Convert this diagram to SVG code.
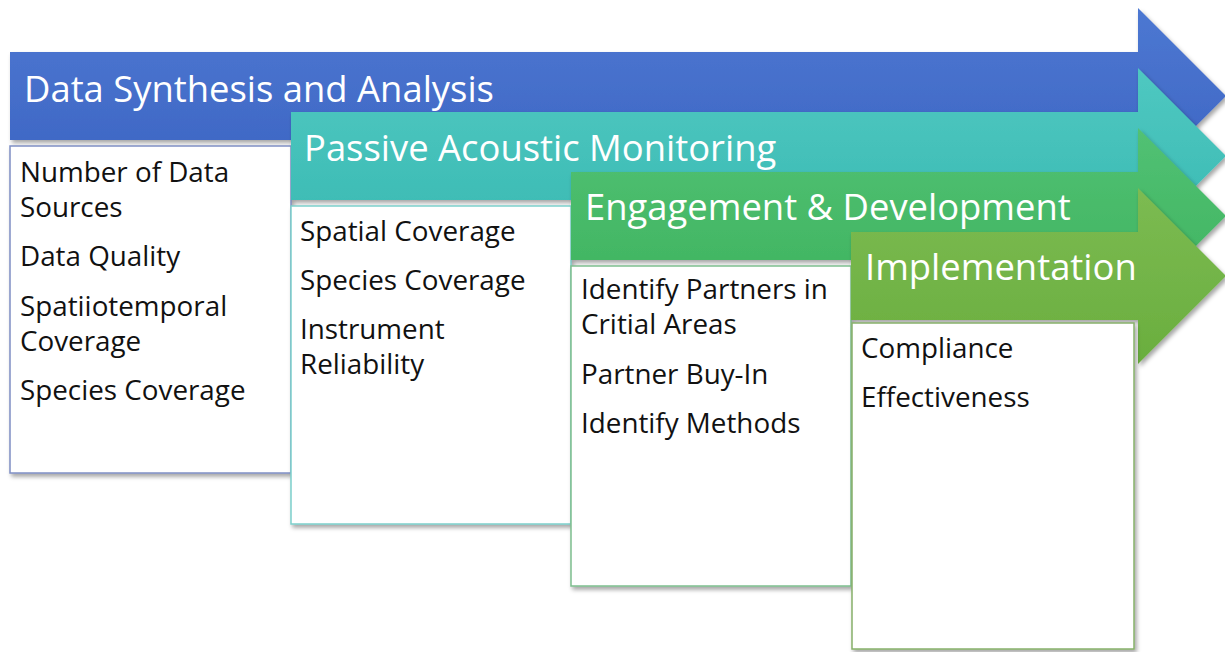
<svg xmlns="http://www.w3.org/2000/svg" width="1225" height="652" viewBox="0 0 1225 652">
<style>
.title{font-family:"Open Sans","Liberation Sans",sans-serif;font-size:36.4px;fill:#ffffff}
.body{font-family:"Open Sans","Liberation Sans",sans-serif;font-size:27.8px;fill:#111111}
.box{fill:#ffffff;stroke-width:1.5}
</style>
<defs>
<filter id="sh" x="-5%" y="-5%" width="115%" height="120%">
<feDropShadow dx="2" dy="3" stdDeviation="2" flood-color="#000" flood-opacity="0.35"/>
</filter>
<linearGradient id="gBlue" x1="0" y1="0" x2="0" y2="1"><stop offset="0" stop-color="#4D78D2"/><stop offset="1" stop-color="#3C64C2"/></linearGradient>
<linearGradient id="gTeal" x1="0" y1="0" x2="0" y2="1"><stop offset="0" stop-color="#4FC8C1"/><stop offset="1" stop-color="#39B9B2"/></linearGradient>
<linearGradient id="gGreen" x1="0" y1="0" x2="0" y2="1"><stop offset="0" stop-color="#52C174"/><stop offset="1" stop-color="#3DB35E"/></linearGradient>
<linearGradient id="gLime" x1="0" y1="0" x2="0" y2="1"><stop offset="0" stop-color="#7CBB52"/><stop offset="1" stop-color="#6AAE3E"/></linearGradient>
</defs>
<rect width="1225" height="652" fill="#ffffff"/>

<g id="stage1">
<path d="M10,52 H1138 V8 L1226,96 L1138,184 V140 H10 Z" fill="url(#gBlue)" filter="url(#sh)"/>
<text class="title" x="24" y="102">Data Synthesis and Analysis</text>
<rect class="box" x="10" y="146" width="281" height="327" stroke="#7F8FC4" filter="url(#sh)"/>
<text class="body" x="20" y="182">Number of Data</text>
<text class="body" x="20" y="217">Sources</text>
<text class="body" x="20" y="266">Data Quality</text>
<text class="body" x="20" y="316">Spatiiotemporal</text>
<text class="body" x="20" y="351">Coverage</text>
<text class="body" x="20" y="400">Species Coverage</text>
</g>

<g id="stage2">
<path d="M291,112 H1138 V68 L1226,156 L1138,244 V200 H291 Z" fill="url(#gTeal)" filter="url(#sh)"/>
<text class="title" x="304" y="161">Passive Acoustic Monitoring</text>
<rect class="box" x="291" y="206" width="280" height="318" stroke="#7CCFCB" filter="url(#sh)"/>
<text class="body" x="300" y="241">Spatial Coverage</text>
<text class="body" x="300" y="290">Species Coverage</text>
<text class="body" x="300" y="339">Instrument</text>
<text class="body" x="300" y="374">Reliability</text>
</g>

<g id="stage3">
<path d="M571,172 H1138 V128 L1226,216 L1138,304 V260 H571 Z" fill="url(#gGreen)" filter="url(#sh)"/>
<text class="title" x="585" y="220">Engagement &amp; Development</text>
<rect class="box" x="571" y="266" width="280" height="320" stroke="#7DBE8E" filter="url(#sh)"/>
<text class="body" x="581" y="299">Identify Partners in</text>
<text class="body" x="581" y="334">Critial Areas</text>
<text class="body" x="581" y="384">Partner Buy-In</text>
<text class="body" x="581" y="433">Identify Methods</text>
</g>

<g id="stage4">
<path d="M851,232 H1138 V188 L1226,276 L1138,364 V320 H851 Z" fill="url(#gLime)" filter="url(#sh)"/>
<text class="title" x="865" y="280">Implementation</text>
<rect class="box" x="852" y="323" width="282" height="326" stroke="#86B06A" filter="url(#sh)"/>
<text class="body" x="861" y="358">Compliance</text>
<text class="body" x="861" y="407">Effectiveness</text>
</g>

<g id="connectors"></g>
</svg>
